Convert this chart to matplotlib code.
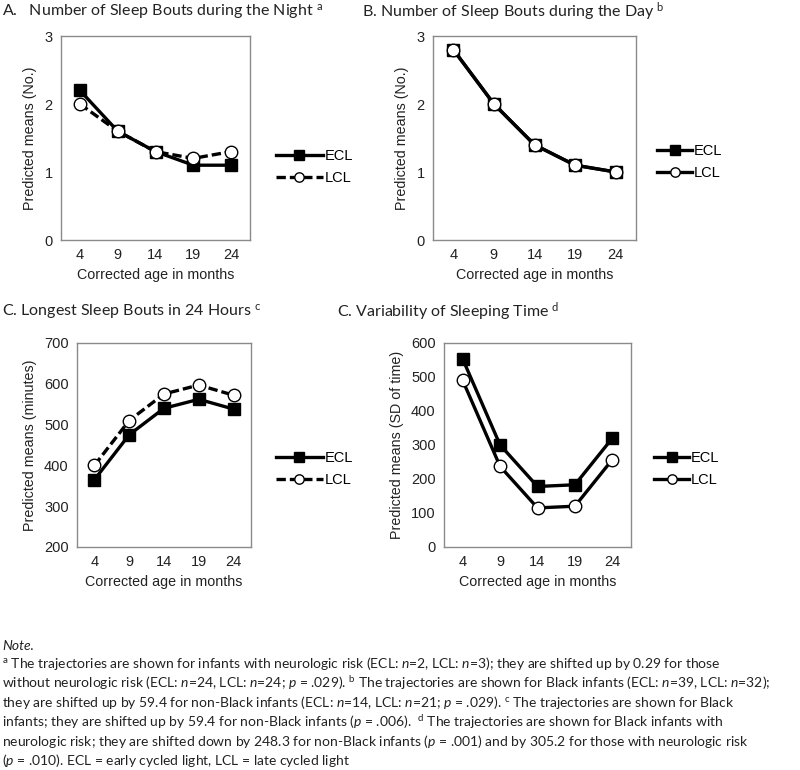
import numpy as np
import matplotlib
matplotlib.use("Agg")
from matplotlib import pyplot as plt

plt.rcParams['font.family'] = ['Liberation Sans', 'DejaVu Sans']
plt.rcParams['mathtext.fontset'] = 'custom'
plt.rcParams['mathtext.rm'] = 'Lato'
plt.rcParams['mathtext.it'] = 'Lato:italic'

# Data
ages = ['4', '9', '14', '19', '24']

night_ecl = [2.2, 1.6, 1.3, 1.1, 1.1]
night_lcl = [2.0, 1.6, 1.3, 1.2, 1.3]

day_ecl = [2.8, 2.0, 1.4, 1.1, 1.0]
day_lcl = [2.8, 2.0, 1.4, 1.1, 1.0]

longest_ecl = [365, 475, 540, 562, 538]
longest_lcl = [400, 510, 575, 597, 572]

var_ecl = [553, 300, 178, 183, 320]
var_lcl = [490, 237, 115, 120, 257]

titles = ['A.   Number of Sleep Bouts during the Night $^{\\mathrm{a}}$',
          'B. Number of Sleep Bouts during the Day $^{\\mathrm{b}}$',
          'C. Longest Sleep Bouts in 24 Hours $^{\\mathrm{c}}$',
          'C. Variability of Sleeping Time $^{\\mathrm{d}}$']

note_lines = [
    '$^{\\mathrm{a}}$ The trajectories are shown for infants with neurologic risk (ECL: $n$=2, LCL: $n$=3); they are shifted up by 0.29 for those',
    'without neurologic risk (ECL: $n$=24, LCL: $n$=24; $p$ = .029). $^{\\mathrm{b}}$ The trajectories are shown for Black infants (ECL: $n$=39, LCL: $n$=32);',
    'they are shifted up by 59.4 for non-Black infants (ECL: $n$=14, LCL: $n$=21; $p$ = .029). $^{\\mathrm{c}}$ The trajectories are shown for Black',
    'infants; they are shifted up by 59.4 for non-Black infants ($p$ = .006).  $^{\\mathrm{d}}$ The trajectories are shown for Black infants with',
    'neurologic risk; they are shifted down by 248.3 for non-Black infants ($p$ = .001) and by 305.2 for those with neurologic risk',
    '($p$ = .010). ECL = early cycled light, LCL = late cycled light',
]

fig = plt.figure(figsize=(8, 7.7), dpi=100)
W, H = 800, 770


def px_axes(x0, y0, x1, y1):
    return fig.add_axes([x0 / W, 1 - y1 / H, (x1 - x0) / W, (y1 - y0) / H])


panels = [
    dict(box=(61, 36, 250, 240), ecl=night_ecl, lcl=night_lcl, ylim=(0, 3), step=1,
         ylabel='Predicted means (No.)', dashed=True, leg=(276, 167), hl=3.2,
         title=(2, 12)),
    dict(box=(433, 36, 636, 240), ecl=day_ecl, lcl=day_lcl, ylim=(0, 3), step=1,
         ylabel='Predicted means (No.)', dashed=False, leg=(657, 162), hl=2.4,
         title=(362, 12)),
    dict(box=(77, 343, 251, 547), ecl=longest_ecl, lcl=longest_lcl, ylim=(200, 700), step=100,
         ylabel='Predicted means (minutes)', dashed=True, leg=(276, 469), hl=3.2,
         title=(2, 312)),
    dict(box=(444, 343, 631, 547), ecl=var_ecl, lcl=var_lcl, ylim=(0, 600), step=100,
         ylabel='Predicted means (SD of time)', dashed=False, leg=(654, 469), hl=2.4,
         title=(337, 312)),
]

for p, title in zip(panels, titles):
    ax = px_axes(*p['box'])
    ls = (0, (2.8, 1.2)) if p['dashed'] else '-'
    ax.plot(ages, p['ecl'], color='black', lw=2.4, marker='s', ms=9,
            mfc='black', mec='black', label='ECL', zorder=3)
    ax.plot(ages, p['lcl'], color='black', lw=2.4, ls=ls, marker='o', ms=9,
            mfc='white', mec='black', mew=1.0, label='LCL', zorder=4)
    ax.set_xlim(-0.5, 4.5)
    ax.set_ylim(*p['ylim'])
    ax.set_yticks(np.arange(p['ylim'][0], p['ylim'][1] + 1e-9, p['step']))
    ax.tick_params(length=0, labelsize=10.5, colors='#222222', pad=6)
    for s in ax.spines.values():
        s.set_color('#8a8a8a')
        s.set_linewidth(1.0)
    ax.set_xlabel('Corrected age in months', fontsize=10.3, color='#222222', labelpad=4)
    ax.set_ylabel(p['ylabel'], fontsize=10.3, color='#222222', labelpad=5)
    lx, ly = p['leg']
    ax.legend(loc='center left', bbox_to_anchor=(lx / W, 1 - ly / H),
              bbox_transform=fig.transFigure, frameon=False, fontsize=10.5,
              handlelength=p['hl'], handletextpad=0.15, labelspacing=0.6,
              markerscale=0.75, borderaxespad=0, borderpad=0)
    tx, ty = p['title']
    fig.text(tx / W, 1 - ty / H, title, fontsize=11.5, family='Lato',
             ha='left', va='center', color='#222222')

# note block
fig.text(2 / W, 1 - 646 / H, 'Note.', fontsize=10, family='Lato', style='italic',
         ha='left', va='center', color='#222222')
for i, line in enumerate(note_lines):
    fig.text(2 / W, 1 - (664 + 19.3 * i) / H, line, fontsize=10, family='Lato',
             ha='left', va='center', color='#222222')

fig.savefig('out.png', dpi=100)
